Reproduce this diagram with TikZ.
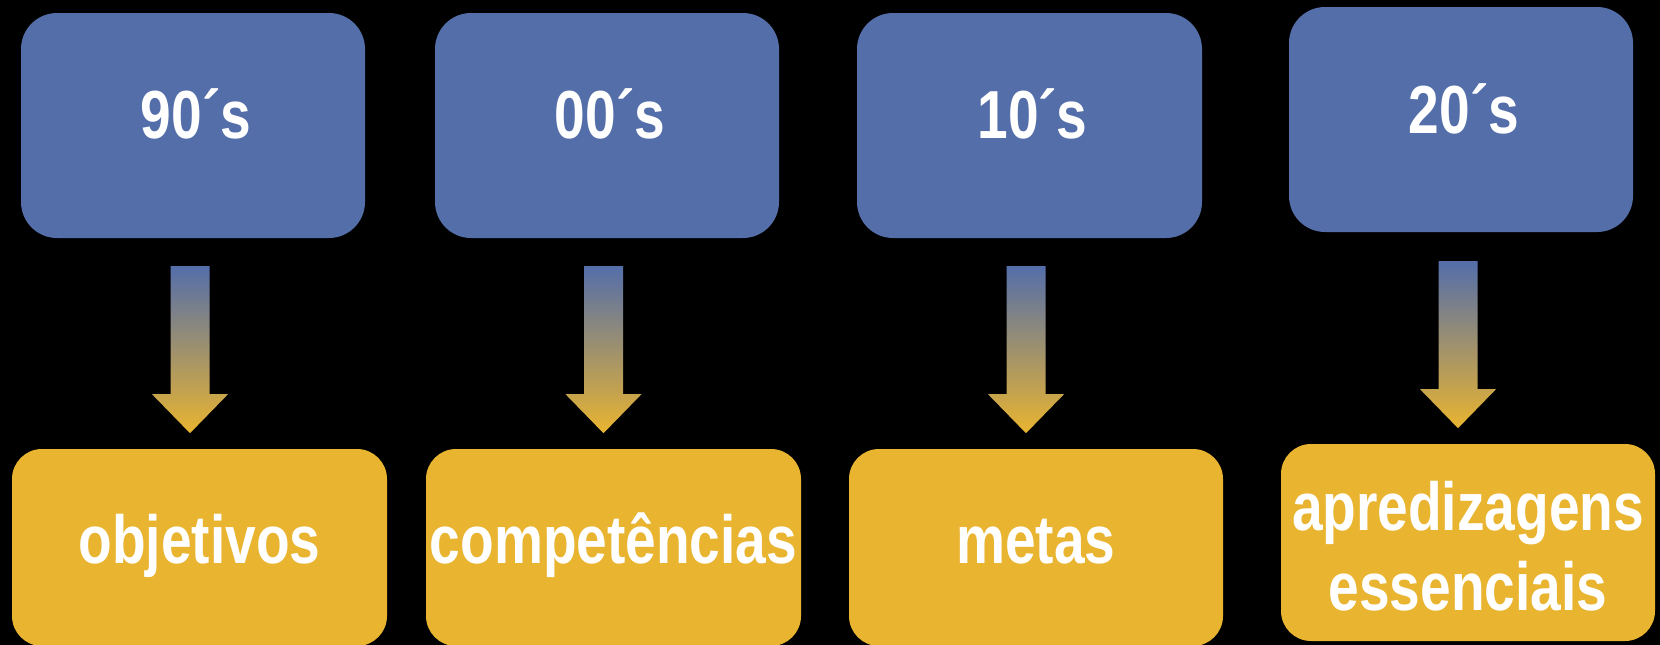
\documentclass[tikz,border=0pt]{standalone}
\usepackage{fontspec}
\newfontfamily\lblfont[UprightFont={* Bold}, FakeStretch=0.81]{Liberation Sans}
\usetikzlibrary{calc}
\definecolor{boxblue}{RGB}{84,110,170}
\definecolor{boxgold}{RGB}{233,180,48}
\tikzset{
  topbox/.style={fill=boxblue, draw=none, rounded corners=36pt, minimum width=344pt, minimum height=225pt, inner sep=0pt},
  botbox/.style={fill=boxgold, draw=none, rounded corners=30pt, minimum width=375pt, minimum height=197pt, inner sep=0pt},
  lbl/.style={text=white, inner sep=0pt, anchor=base, align=center, font=\lblfont\fontsize{68}{80}\selectfont},
  gradarrow/.style={top color=boxblue, bottom color=boxgold, draw=none}
}
% block arrow: #1 = top-centre coordinate name
\newcommand{\blockarrowdown}[1]{%
  \shade[gradarrow] ($(#1)+(-19.5,0)$) -- ($(#1)+(19.5,0)$) -- ($(#1)+(19.5,128)$) -- ($(#1)+(38,128)$)
    -- ($(#1)+(0,167)$) -- ($(#1)+(-38,128)$) -- ($(#1)+(-19.5,128)$) -- cycle;}
\begin{document}
\begin{tikzpicture}[x=1pt, y=-1pt]
\fill[black] (0,0) rectangle (1660,645);
\useasboundingbox (0,0) rectangle (1660,645);

% top boxes
\node[topbox] (b1) at (193,125.5) {};
\node[topbox] (b2) at (607,125.5) {};
\node[topbox, minimum width=345pt] (b3) at (1029.5,125.5) {};
\node[topbox] (b4) at (1461,119.5) {};

% bottom boxes
\node[botbox] (y1) at (199.5,547.5) {};
\node[botbox] (y2) at (613.5,547.5) {};
\node[botbox, minimum width=374pt] (y3) at (1036,547.5) {};
\node[botbox, minimum width=374pt] (y4) at (1468,542.5) {};

% labels
\node[lbl] (t1) at ($(b1.center)+(3,12.5)$) {90´s};
\node[lbl] (t2) at ($(b2.center)+(3,12.5)$) {00´s};
\node[lbl] (t3) at ($(b3.center)+(3,12.5)$) {10´s};
\node[lbl] (t4) at ($(b4.center)+(3,13.5)$) {20´s};

\node[lbl] (u1) at ($(y1.center)+(0,15.5)$) {objetivos};
\node[lbl] (u2) at ($(y2.center)+(0,15.5)$) {competências};
\node[lbl] (u3) at ($(y3.center)+(0,15.5)$) {metas};
\node[lbl] (u4) at ($(y4.center)+(0,67.5)$) {apredizagens\\essenciais};

% arrows between boxes
\coordinate (a1) at ($(b1.south)+(-3,28)$);
\coordinate (a2) at ($(b2.south)+(-3.5,28)$);
\coordinate (a3) at ($(b3.south)+(-3.5,28)$);
\coordinate (a4) at ($(b4.south)+(-3,29)$);
\blockarrowdown{a1}
\blockarrowdown{a2}
\blockarrowdown{a3}
\blockarrowdown{a4}
\end{tikzpicture}
\end{document}
